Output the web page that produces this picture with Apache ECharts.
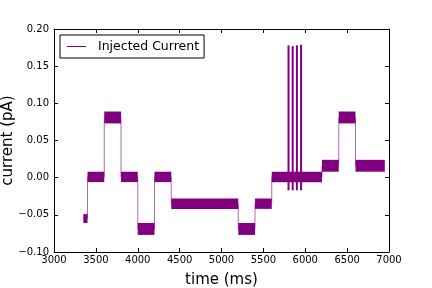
<!DOCTYPE html>
<html><head><meta charset="utf-8">
<script src="https://cdn.jsdelivr.net/npm/echarts@6/dist/echarts.min.js"></script>
<style>html,body{margin:0;padding:0;background:#fff}#c{width:432px;height:288px}</style>
</head><body><div id="c"></div>
<script>
var segStart = [3350, 3400, 3600, 3800, 4000, 4200, 4400, 5200, 5400, 5600, 6200, 6400, 6600];
var segEnd   = [3400, 3600, 3800, 4000, 4200, 4400, 5200, 5400, 5600, 6200, 6400, 6600, 6950];
var segLow   = [-0.061, -0.006, 0.073, -0.006, -0.077, -0.006, -0.042, -0.077, -0.042, -0.006, 0.008, 0.073, 0.008];
var segHigh  = [-0.049, 0.008, 0.089, 0.008, -0.061, 0.008, -0.028, -0.061, -0.028, 0.008, 0.024, 0.089, 0.024];
var spikeTimes = [5800, 5850, 5900, 5950];
var spikeLow = [-0.017, -0.017, -0.017, -0.017];
var spikeHigh = [0.178, 0.177, 0.178, 0.179];
var xTicks = [3000, 3500, 4000, 4500, 5000, 5500, 6000, 6500, 7000];
var yTicks = [-0.10, -0.05, 0.00, 0.05, 0.10, 0.15, 0.20];

var PURPLE = '#800080';
var FONT = 'DejaVu Sans';

var stepData = [];
var bandData = [];
for (var i = 0; i < segStart.length; i++) {
  var lvl = (segLow[i] + segHigh[i]) / 2;
  stepData.push([segStart[i], lvl]);
  stepData.push([segEnd[i], lvl]);
  bandData.push([segStart[i], segEnd[i], segLow[i], segHigh[i]]);
}
var spikeData = spikeTimes.map(function (t, i) { return [t, spikeLow[i], spikeHigh[i]]; });

function fmtY(v) {
  var s = Math.abs(v).toFixed(2);
  return (v < -1e-9 ? '\u2212' : '') + s;
}

var chart = echarts.init(document.getElementById('c'), null, {renderer: 'canvas'});
function axisCommon() {
  return {
    axisLine: {show: true, onZero: false, lineStyle: {color: '#000', width: 1}},
    axisTick: {show: true, inside: true, length: 4, lineStyle: {color: '#000'}},
    splitLine: {show: false}
  };
}
chart.setOption({
  animation: false,
  grid: {left: 54, right: 43, top: 29, bottom: 36, containLabel: false, outerBoundsMode: 'none'},
  legend: {
    left: 60, top: 35, padding: [5, 5, 5, 7],
    borderColor: '#000', borderWidth: 1, borderRadius: 0,
    backgroundColor: '#fff',
    itemWidth: 19, itemHeight: 1, itemGap: 12,
    icon: 'rect',
    data: ['Injected Current'],
    itemStyle: {color: PURPLE, opacity: 1},
    textStyle: {fontFamily: FONT, fontSize: 12.5, color: '#000', padding: [0, 0, 0, 7]}
  },
  xAxis: [
    Object.assign(axisCommon(), {type: 'value', min: 3000, max: 7000, interval: 500, position: 'bottom',
      name: 'time (ms)', nameLocation: 'middle', nameGap: 21, nameMoveOverlap: false,
      nameTextStyle: {fontFamily: FONT, fontSize: 15, color: '#000'},
      axisLabel: {fontFamily: FONT, fontSize: 10, color: '#000', margin: 3,
        formatter: function (v) { return String(v); }}}),
    Object.assign(axisCommon(), {type: 'value', min: 3000, max: 7000, interval: 500, position: 'top',
      axisLabel: {show: false}})
  ],
  yAxis: [
    Object.assign(axisCommon(), {type: 'value', min: -0.10, max: 0.20, interval: 0.05, position: 'left',
      name: 'current (pA)', nameLocation: 'middle', nameGap: 38, nameRotate: 90, nameMoveOverlap: false,
      nameTextStyle: {fontFamily: FONT, fontSize: 15, color: '#000'},
      axisLabel: {fontFamily: FONT, fontSize: 10, color: '#000', margin: 5, formatter: fmtY}}),
    Object.assign(axisCommon(), {type: 'value', min: -0.10, max: 0.20, interval: 0.05, position: 'right',
      axisLabel: {show: false}})
  ],
  series: [
    {
      name: 'Injected Current', type: 'line', data: stepData, symbol: 'none',
      xAxisIndex: 0, yAxisIndex: 0,
      lineStyle: {color: PURPLE, width: 1, opacity: 0.6}, itemStyle: {color: PURPLE},
      z: 2
    },
    {
      name: 'band', type: 'custom', data: bandData, xAxisIndex: 0, yAxisIndex: 0,
      encode: {x: [0, 1], y: [2, 3]}, clip: true, z: 3,
      renderItem: function (params, api) {
        var p1 = api.coord([api.value(0), api.value(3)]);
        var p2 = api.coord([api.value(1), api.value(2)]);
        return {type: 'rect', shape: {x: p1[0], y: p1[1], width: p2[0] - p1[0], height: p2[1] - p1[1]},
          style: {fill: PURPLE}};
      }
    },
    {
      name: 'spikes', type: 'custom', data: spikeData, xAxisIndex: 0, yAxisIndex: 0,
      encode: {x: 0, y: [1, 2]}, clip: true, z: 3,
      renderItem: function (params, api) {
        var p1 = api.coord([api.value(0), api.value(2)]);
        var p2 = api.coord([api.value(0), api.value(1)]);
        return {type: 'rect', shape: {x: p1[0] - 1, y: p1[1], width: 2, height: p2[1] - p1[1]},
          style: {fill: PURPLE}};
      }
    }
  ]
});
</script>
</body></html>
